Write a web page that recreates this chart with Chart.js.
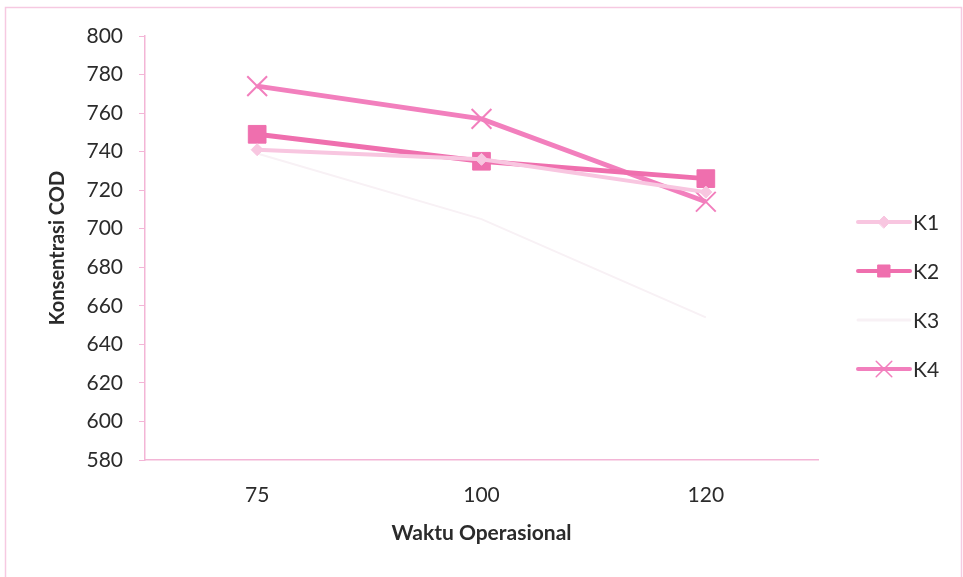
<!DOCTYPE html>
<html>
<head>
<meta charset="utf-8">
<style>
  html, body { margin: 0; padding: 0; background: #ffffff; }
  #wrap { position: relative; width: 963px; height: 577px; }
</style>
<script src="https://cdn.jsdelivr.net/npm/chart.js@4.4.1/dist/chart.umd.min.js"></script>
</head>
<body>
<div id="wrap"><canvas id="c" width="963" height="577"></canvas></div>
<script>
// Operating time (categories) and COD concentration per reactor
const categories = ['75', '100', '120'];
const seriesNames = ['K1', 'K2', 'K3', 'K4'];
const k1 = [741, 736, 719];
const k2 = [749, 735, 726];
const k3 = [739, 705, 654];
const k4 = [774, 757, 714];
const yTicks = [580, 600, 620, 640, 660, 680, 700, 720, 740, 760, 780, 800];

const FONT = 'Lato, "Open Sans", sans-serif';
const AXIS_PINK = '#f3b5d6';

const styles = [
  { color: '#f8c6e0', width: 4, point: 'rectRot', radius: 6, pw: 1 },
  { color: '#ef6fae', width: 5, point: 'rect', radius: 12.5, pw: 1 },
  { color: '#f8f1f5', width: 2, point: 'circle', radius: 0, pw: 1 },
  { color: '#f27fbd', width: 5, point: 'crossRot', radius: 14, pw: 2 }
];
const values = [k1, k2, k3, k4];

const datasets = seriesNames.map((name, i) => ({
  label: name,
  data: values[i],
  borderColor: styles[i].color,
  backgroundColor: styles[i].color,
  borderWidth: styles[i].width,
  pointStyle: styles[i].point,
  pointRadius: styles[i].radius,
  pointBorderWidth: styles[i].pw,
  pointBorderColor: styles[i].color,
  pointBackgroundColor: styles[i].color,
  tension: 0,
  fill: false
}));

// page frame
const framePlugin = {
  id: 'frame',
  beforeDraw(chart) {
    const ctx = chart.ctx;
    ctx.save();
    ctx.fillStyle = '#ffffff';
    ctx.fillRect(0, 0, chart.width, chart.height);
    ctx.strokeStyle = '#f6c9e1';
    ctx.lineWidth = 1.5;
    ctx.strokeRect(5.5, 7.5, 956, 620);
    ctx.restore();
  }
};

// legend on the right: line sample with marker, then name
const sideLegend = {
  id: 'sideLegend',
  afterDraw(chart) {
    const ctx = chart.ctx;
    const x0 = 858, x1 = 910, y0 = 222, step = 49;
    chart.data.datasets.forEach((ds, i) => {
      const y = y0 + i * step;
      const xm = (x0 + x1) / 2;
      ctx.save();
      ctx.strokeStyle = ds.borderColor;
      ctx.lineWidth = Math.min(Math.max(ds.borderWidth, 3), 4);
      ctx.lineCap = 'round';
      ctx.beginPath();
      ctx.moveTo(x0, y);
      ctx.lineTo(x1, y);
      ctx.stroke();
      if (ds.pointRadius > 0) {
        ctx.fillStyle = ds.pointBackgroundColor;
        ctx.strokeStyle = ds.pointBorderColor;
        ctx.lineWidth = ds.pointStyle === 'crossRot' ? 1.5 : ds.pointBorderWidth;
        const r = ds.pointStyle === 'rect' ? 8.5 : (ds.pointStyle === 'crossRot' ? 11 : ds.pointRadius);
        Chart.helpers.drawPoint(ctx, {
          pointStyle: ds.pointStyle,
          radius: r,
          borderWidth: ctx.lineWidth
        }, xm, y);
      }
      ctx.fillStyle = '#2b2b2b';
      ctx.font = '21px ' + FONT;
      ctx.textAlign = 'left';
      ctx.textBaseline = 'middle';
      ctx.fillText(ds.label, 913, y + 1);
      ctx.restore();
    });
  }
};

new Chart(document.getElementById('c'), {
  type: 'line',
  data: { labels: categories, datasets },
  plugins: [framePlugin, sideLegend],
  options: {
    responsive: false,
    animation: false,
    devicePixelRatio: 1,
    layout: { padding: { left: 0, right: 145, top: 36, bottom: 0 } },
    plugins: {
      legend: { display: false },
      tooltip: { enabled: false }
    },
    scales: {
      x: {
        type: 'category',
        offset: true,
        grid: { display: false, drawTicks: false },
        border: { color: AXIS_PINK, width: 1.5 },
        ticks: { color: '#2b2b2b', font: { family: FONT, size: 21 }, padding: 23 },
        title: {
          display: true,
          text: 'Waktu Operasional',
          color: '#2b2b2b',
          font: { family: FONT, size: 21, weight: 'bold' },
          padding: { top: 0, bottom: 31 }
        },
        afterFit(scale) { scale.height = 117; }
      },
      y: {
        min: 580,
        max: 800,
        afterBuildTicks(scale) { scale.ticks = yTicks.map(v => ({ value: v })); },
        grid: { display: true, drawOnChartArea: false, drawTicks: true, tickLength: 6, color: AXIS_PINK, lineWidth: 1 },
        border: { color: AXIS_PINK, width: 1.5 },
        ticks: { color: '#2b2b2b', font: { family: FONT, size: 21 }, padding: 16 },
        title: {
          display: true,
          text: 'Konsentrasi COD',
          color: '#2b2b2b',
          font: { family: FONT, size: 20, weight: 'bold' },
          padding: { top: 46, bottom: 0 }
        },
        afterFit(scale) { scale.width = 145; }
      }
    }
  }
});
</script>
</body>
</html>
